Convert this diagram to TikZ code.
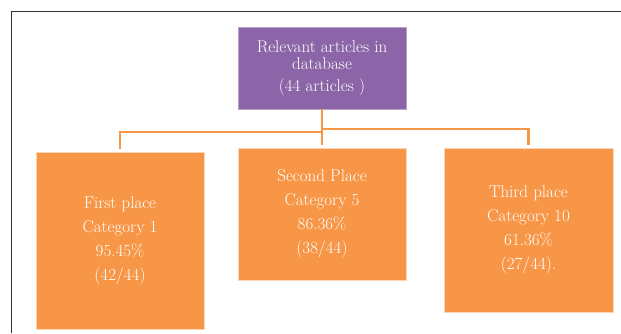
\documentclass[tikz,border=0pt]{standalone}
\usetikzlibrary{positioning}
\definecolor{mypurple}{RGB}{139,101,167}
\definecolor{myorange}{RGB}{247,150,70}
\definecolor{myframe}{RGB}{51,51,51}
\tikzset{
  topbox/.style={draw=mypurple!60!white, line width=0.6, fill=mypurple, text=white,
    minimum width=168, minimum height=82, inner sep=0, align=center,
    font=\fontsize{17}{17}\selectfont},
  placebox/.style={draw=myorange!40!white, line width=0.6, fill=myorange, text=white,
    minimum width=168, inner sep=0, align=center,
    font=\fontsize{17}{24}\selectfont},
  link/.style={draw=myorange, line width=2.4, shorten >=3}
}

\begin{document}
\begin{tikzpicture}[x=1pt, y=1pt]

\useasboundingbox (0,0) rectangle (621,-333);
\draw[myframe, line width=1] (11,-333) -- (11,-11) -- (621,-11);

\node [topbox] (db) at (322,-68) {Relevant articles in\\database\\[5pt](44 articles )};

\node [placebox, minimum height=177] (first) at (120,-240.5) {First place\\Category 1\\95.45\%\\(42/44)};
\node [placebox, minimum height=132] (second) at (322,-214) {Second Place\\Category 5\\86.36\%\\(38/44)};
\node [placebox, minimum height=164, minimum width=169] (third) at (528.5,-230) {Third place\\Category 10\\61.36\%\\(27/44).};

\coordinate (jl) at (322,-132);
\coordinate (jr) at (322,-129);
\draw[link] (db.south) -- (second.north);
\draw[link] (jl) -| (first.north);
\draw[link] (jr) -| (third.north);

\end{tikzpicture}
\end{document}
